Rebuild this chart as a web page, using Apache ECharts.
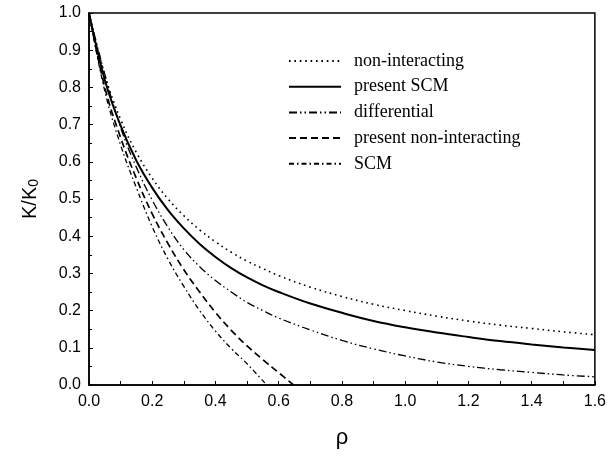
<!DOCTYPE html>
<html><head><meta charset="utf-8">
<script src="https://cdn.jsdelivr.net/npm/echarts@6/dist/echarts.min.js"></script>
<style>html,body{margin:0;padding:0;background:#fff}#c{width:609px;height:456px}</style>
</head><body><div id="c"></div>
<script>
const rhoA = [0,0.05,0.1,0.15,0.2,0.25,0.3,0.35,0.4,0.45,0.5,0.55,0.6,0.7,0.8,0.9,1.0,1.1,1.2,1.3,1.4,1.5,1.6];
const nonInteracting = [1,0.833,0.714,0.625,0.556,0.5,0.455,0.417,0.385,0.357,0.333,0.313,0.294,0.263,0.238,0.217,0.2,0.185,0.172,0.161,0.152,0.143,0.135];
const presentSCM = [1,0.82,0.697,0.603,0.53,0.47,0.421,0.379,0.344,0.314,0.289,0.268,0.25,0.219,0.194,0.172,0.155,0.141,0.129,0.118,0.109,0.101,0.094];
const differential = [1,0.835,0.692,0.585,0.497,0.424,0.364,0.318,0.281,0.25,0.222,0.2,0.18,0.148,0.12,0.097,0.078,0.062,0.05,0.041,0.034,0.027,0.022];
const rhoB = [0,0.05,0.1,0.15,0.2,0.25,0.3,0.35,0.4,0.45,0.5,0.55,0.6,0.647];
const presentNonInteracting = [1,0.8,0.665,0.555,0.46,0.38,0.31,0.25,0.195,0.147,0.105,0.068,0.033,0];
const rhoC = [0,0.05,0.1,0.15,0.2,0.25,0.3,0.35,0.4,0.45,0.5,0.562];
const scm = [1,0.79,0.645,0.53,0.425,0.338,0.265,0.2,0.145,0.098,0.057,0];
const seriesNames = ['non-interacting','present SCM','differential','present non-interacting','SCM'];

const pairs = (xs, ys) => xs.map((x, i) => [x, ys[i]]);
const chart = echarts.init(document.getElementById('c'), null, {renderer: 'canvas'});
const axisFont = {fontFamily: 'Liberation Sans, Arial, sans-serif', fontSize: 16, color: '#000'};
function mk(name, data, type, width) {
  return {name, type: 'line', data, smooth: 0.4, symbol: 'none', silent: true,
    color: '#000', itemStyle: {color: '#000'},
    lineStyle: {color: '#000', width, type}, z: 3};
}
chart.setOption({
  animation: false,
  color: ['#000'],
  grid: {left: 89, right: 12, top: 13, bottom: 71, show: true, borderColor: '#000', borderWidth: 1.5, backgroundColor: 'transparent'},
  xAxis: {type: 'value', min: 0, max: 1.6, interval: 0.2,
    name: 'ρ', nameLocation: 'middle', nameGap: 42,
    nameTextStyle: {fontFamily: 'Liberation Sans, Arial, sans-serif', fontSize: 22, color: '#000'},
    axisLine: {lineStyle: {color: '#000', width: 1.5}},
    axisTick: {inside: true, length: 4, lineStyle: {color: '#000'}},
    minorTick: {show: true, splitNumber: 2, length: 4, lineStyle: {color: '#000'}},
    splitLine: {show: false},
    axisLabel: Object.assign({margin: 9, formatter: v => v.toFixed(1)}, axisFont)},
  yAxis: {type: 'value', min: 0, max: 1.0, interval: 0.1,
    name: 'K/K{s|0}', nameLocation: 'middle', nameGap: 48, nameRotate: 90,
    nameTextStyle: {fontFamily: 'Liberation Sans, Arial, sans-serif', fontSize: 20, color: '#000',
      rich: {s: {fontFamily: 'Liberation Sans, Arial, sans-serif', fontSize: 14, color: '#000', verticalAlign: 'bottom', padding: [8, 0, 0, 0]}}},
    axisLine: {lineStyle: {color: '#000', width: 1.5}},
    axisTick: {inside: true, length: 4, lineStyle: {color: '#000'}},
    minorTick: {show: true, splitNumber: 2, length: 3, lineStyle: {color: '#000'}},
    splitLine: {show: false},
    axisLabel: Object.assign({margin: 8, formatter: v => v.toFixed(1)}, axisFont)},
  legend: {orient: 'vertical', left: 283, top: 47, itemWidth: 52, itemHeight: 14, itemGap: 7.7,
    data: seriesNames, selectedMode: false,
    itemStyle: {opacity: 0},
    textStyle: {fontFamily: 'Liberation Serif, Times New Roman, serif', fontSize: 18, color: '#000', padding: [0, 0, 0, 8]}},
  series: [
    mk(seriesNames[0], pairs(rhoA, nonInteracting), [1.6, 3.8], 1.6),
    mk(seriesNames[1], pairs(rhoA, presentSCM), 'solid', 2),
    mk(seriesNames[2], pairs(rhoA, differential), [8, 3, 1.5, 3, 1.5, 3], 1.3),
    mk(seriesNames[3], pairs(rhoB, presentNonInteracting), [7, 4], 1.7),
    mk(seriesNames[4], pairs(rhoC, scm), [5, 3, 1.5, 3], 1.3)
  ]
});
</script></body></html>
